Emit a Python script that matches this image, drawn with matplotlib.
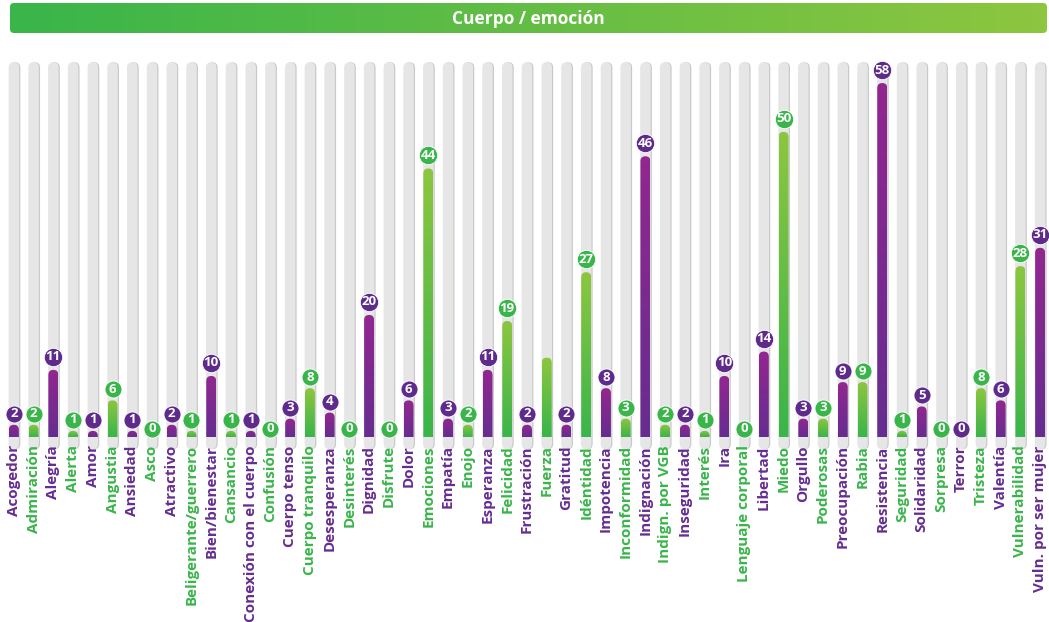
import matplotlib
matplotlib.use("Agg")
import matplotlib.pyplot as plt
import numpy as np
from matplotlib.patches import FancyBboxPatch
from matplotlib.colors import LinearSegmentedColormap

plt.rcParams['font.family'] = ['Open Sans', 'DejaVu Sans']

title = "Cuerpo / emoción"
categories = ["Acogedor", "Admiración", "Alegría", "Alerta", "Amor", "Angustia", "Ansiedad",
              "Asco", "Atractivo", "Beligerante/guerrero", "Bien/bienestar", "Cansancio",
              "Conexión con el cuerpo", "Confusión", "Cuerpo tenso", "Cuerpo tranquilo",
              "Desesperanza", "Desinterés", "Dignidad", "Disfrute", "Dolor", "Emociones",
              "Empatía", "Enojo", "Esperanza", "Felicidad", "Frustración", "Fuerza", "Gratitud",
              "Idéntidad", "Impotencia", "Inconformidad", "Indignación", "Indign. por VGB",
              "Inseguridad", "Interés", "Ira", "Lenguaje corporal", "Libertad", "Miedo",
              "Orgullo", "Poderosas", "Preocupación", "Rabia", "Resistencia", "Seguridad",
              "Solidaridad", "Sorpresa", "Terror", "Tristeza", "Valentía", "Vulnerabilidad",
              "Vuln. por ser mujer"]
values = [2, 2, 11, 1, 1, 6, 1, 0, 2, 1, 10, 1, 1, 0, 3, 8, 4, 0, 20, 0, 6, 44, 3, 2, 11, 19,
          2, 13, 2, 27, 8, 3, 46, 2, 2, 1, 10, 0, 14, 50, 3, 3, 9, 9, 58, 1, 5, 0, 0, 8, 6, 28, 31]
unlabelled = ["Fuerza"]
track_max = 61.4

W, H = 1049, 622
fig = plt.figure(figsize=(W / 100, H / 100), dpi=100)

purple_txt = "#662D91"
green_txt = "#39B54A"
purple_grad = LinearSegmentedColormap.from_list("p", ["#662D91", "#92278F"])
green_grad = LinearSegmentedColormap.from_list("g", ["#39B54A", "#8DC63F"])

# banner
bax = fig.add_axes([0, 0, 1, 1])
bax.set_xlim(0, W)
bax.set_ylim(H, 0)
bax.axis('off')
bx0, bx1, by0, by1 = 10, 1047, 3, 33
banner = FancyBboxPatch((bx0, by0), bx1 - bx0, by1 - by0,
                        boxstyle="round,pad=0,rounding_size=4", lw=0, fc='none')
bax.add_patch(banner)
grad = np.linspace(0, 1, 256).reshape(1, -1)
bim = bax.imshow(grad, cmap=LinearSegmentedColormap.from_list("b", ["#39B54A", "#8DC63F"]),
                 extent=[bx0, bx1, by1, by0], aspect='auto', zorder=1)
bim.set_clip_path(banner)
bax.text((bx0 + bx1) / 2, (by0 + by1) / 2 + 1, title, color='white', fontsize=12.5,
         fontweight='bold', ha='center', va='center', zorder=2)

# main axes
n = len(categories)
px_per_unit = 6.103
base_px = 437
top_px = 40
ax = fig.add_axes([4 / W, (H - base_px) / H, 1046 / W, (base_px - top_px) / H])
ax.set_xlim(-0.5, n - 0.5)
ax.set_ylim(0, (base_px - top_px) / px_per_unit)
ax.axis('off')

x_per_px = n / 1046
y_per_px = 1 / px_per_unit
aspect = y_per_px / x_per_px
bw = 10.5 * x_per_px
r = bw / 2

for i, (cat, v) in enumerate(zip(categories, values)):
    purple = (i % 2 == 0)
    sh = FancyBboxPatch((i - bw / 2 + 1.2 * x_per_px, -2), bw, track_max + 2,
                        boxstyle=f"round,pad=0,rounding_size={r}", mutation_aspect=aspect,
                        lw=0, fc="#C9C9C9", zorder=1, clip_on=False)
    ax.add_patch(sh)
    tr = FancyBboxPatch((i - bw / 2, -2), bw, track_max + 2,
                        boxstyle=f"round,pad=0,rounding_size={r}", mutation_aspect=aspect,
                        lw=0, fc="#E6E6E6", zorder=2, clip_on=False)
    ax.add_patch(tr)
    if v > 0:
        cw = bw * 0.95
        p = FancyBboxPatch((i - cw / 2, -3), cw, v + 3,
                           boxstyle=f"round,pad=0,rounding_size={cw / 2}", mutation_aspect=aspect,
                           lw=0, fc='none', zorder=3, clip_on=False)
        ax.add_patch(p)
        g = np.linspace(0, 1, 128).reshape(-1, 1)
        im = ax.imshow(g, cmap=purple_grad if purple else green_grad, origin='lower',
                       extent=[i - cw / 2, i + cw / 2, 0, v], aspect='auto', zorder=3)
        im.set_clip_path(p)
    col_bub = "#5E2A8C" if purple else "#39B54A"
    if cat not in unlabelled:
        two = v >= 10
        yb = v + (13 if two else 11) * y_per_px if v > 0 else 8 * y_per_px
        ax.scatter([i], [yb], s=175 if two else 150, color=col_bub, edgecolors='white',
                   linewidths=0.6, zorder=5, clip_on=False)
        ax.text(i, yb, str(v), color='white', fontsize=9.5, fontweight='bold',
                ha='center', va='center', zorder=6, clip_on=False)
    ax.annotate(cat, xy=(i, 0), xytext=(0, -6), textcoords='offset points',
                rotation=90, ha='center', va='top', fontsize=11, fontweight='bold',
                color=purple_txt if purple else green_txt, annotation_clip=False)

ax.set_xlim(-0.5, n - 0.5)
ax.set_ylim(0, (base_px - top_px) / px_per_unit)
fig.savefig("out.png", dpi=100)
